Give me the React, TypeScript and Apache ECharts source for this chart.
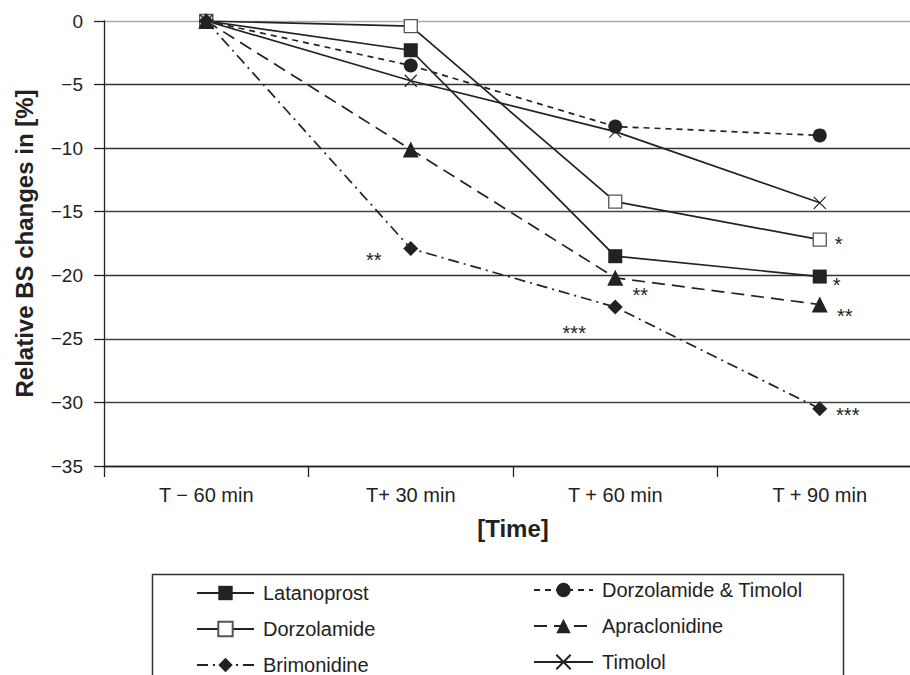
import React, { useEffect, useRef } from "react";
import * as echarts from "echarts";

const categories = ["T − 60 min", "T+ 30 min", "T + 60 min", "T + 90 min"];
const yTicks = { min: -35, max: 0, interval: 5 };

const latanoprost = [0, -2.3, -18.5, -20.1];
const dorzTimolol = [0, -3.5, -8.3, -9.0];
const dorzolamide = [0, -0.4, -14.2, -17.2];
const apraclonidine = [0, -10.1, -20.2, -22.3];
const brimonidine = [0, -17.9, -22.5, -30.5];
const timolol = [0, -4.7, -8.7, -14.3];

const latanoprostSig = ["", "", "", "*"];
const dorzTimololSig = ["", "", "", ""];
const dorzolamideSig = ["", "", "", "*"];
const apraclonidineSig = ["", "", "**", "**"];
const brimonidineSig = ["", "**", "***", "***"];
const timololSig = ["", "", "", ""];

const FONT = "'Liberation Sans', Arial, Helvetica, sans-serif";
const INK = "#222";

export default function App() {
  const ref = useRef<HTMLDivElement>(null);

  useEffect(() => {
    if (!ref.current) return;
    const chart = echarts.init(ref.current, undefined, { renderer: "svg" });

    // visual offsets of significance marks, per series and point
    const sigOffsets: Record<string, number[][]> = {
      Latanoprost: [[0, 0], [0, 0], [0, 0], [17, 8]],
      "Dorzolamide & Timolol": [[0, 0], [0, 0], [0, 0], [0, 0]],
      Dorzolamide: [[0, 0], [0, 0], [0, 0], [19, 4]],
      Apraclonidine: [[0, 0], [0, 0], [25, 17], [25, 11]],
      Brimonidine: [[0, 0], [-37, 11], [-41, 26], [28, 6]],
      Timolol: [[0, 0], [0, 0], [0, 0], [0, 0]],
    };

    const mkData = (name: string, vals: number[], sig: string[]) =>
      vals.map((v, i) =>
        sig[i]
          ? {
              value: v,
              label: {
                show: true,
                position: "inside",
                formatter: sig[i],
                offset: sigOffsets[name][i],
                fontSize: 20,
                fontFamily: FONT,
                color: INK,
                align: "center",
                verticalAlign: "middle",
              },
            }
          : v
      );

    const base = (name: string) => ({
      name,
      type: "line",
      z: 3,
      silent: true,
      label: { show: false },
    });

    const series = [
      {
        ...base("Latanoprost"),
        data: mkData("Latanoprost", latanoprost, latanoprostSig),
        symbol: "rect",
        symbolSize: 14,
        itemStyle: { color: INK },
        lineStyle: { color: INK, width: 1.7, type: "solid" },
      },
      {
        ...base("Dorzolamide & Timolol"),
        data: mkData("Dorzolamide & Timolol", dorzTimolol, dorzTimololSig),
        symbol: "circle",
        symbolSize: 14,
        itemStyle: { color: INK },
        lineStyle: { color: INK, width: 1.7, type: [6, 5] },
      },
      {
        ...base("Dorzolamide"),
        data: mkData("Dorzolamide", dorzolamide, dorzolamideSig),
        symbol: "rect",
        symbolSize: 13,
        itemStyle: { color: "#fff", borderColor: "#555", borderWidth: 1.3 },
        lineStyle: { color: INK, width: 1.7, type: "solid" },
      },
      {
        ...base("Apraclonidine"),
        data: mkData("Apraclonidine", apraclonidine, apraclonidineSig),
        symbol: "triangle",
        symbolSize: 16,
        itemStyle: { color: INK },
        lineStyle: { color: INK, width: 1.7, type: [13, 7] },
      },
      {
        ...base("Brimonidine"),
        data: mkData("Brimonidine", brimonidine, brimonidineSig),
        symbol: "diamond",
        symbolSize: 15,
        itemStyle: { color: INK },
        lineStyle: { color: INK, width: 1.7, type: [11, 5, 2, 5] },
      },
      {
        ...base("Timolol"),
        data: mkData("Timolol", timolol, timololSig),
        symbol: "path://M0,0L10,10M10,0L0,10",
        symbolSize: 12,
        itemStyle: { color: INK, borderColor: INK, borderWidth: 1.2 },
        lineStyle: { color: INK, width: 1.7, type: "solid" },
      },
    ];

    const legendCommon = {
      orient: "vertical",
      padding: 0,
      itemWidth: 57,
      itemHeight: 18,
      itemGap: 16,
      selectedMode: false,
      textStyle: {
        fontSize: 20,
        lineHeight: 18,
        color: INK,
        fontFamily: FONT,
        padding: [0, 0, 0, 4],
      },
    };

    chart.setOption({
      animation: false,
      grid: { left: 104, top: 21, right: 0, height: 445 },
      xAxis: {
        type: "category",
        data: categories,
        boundaryGap: true,
        axisLine: { onZero: false, lineStyle: { color: INK, width: 1.3 } },
        axisTick: { show: true, length: 11, alignWithLabel: false, lineStyle: { color: INK, width: 1.3 } },
        axisLabel: { margin: 19, fontSize: 20, fontFamily: FONT, color: INK },
        name: "[Time]",
        nameLocation: "middle",
        nameGap: 50,
        nameTextStyle: { fontSize: 24, fontWeight: "bold", fontFamily: FONT, color: INK },
        splitLine: { show: false },
      },
      yAxis: {
        type: "value",
        min: yTicks.min,
        max: yTicks.max,
        interval: yTicks.interval,
        axisLine: { show: true, lineStyle: { color: INK, width: 1.3 } },
        axisTick: { show: true, length: 10, lineStyle: { color: INK, width: 1.3 } },
        axisLabel: {
          margin: 21,
          fontSize: 19,
          fontFamily: FONT,
          color: INK,
          formatter: (v: number) => (v < 0 ? "−" + Math.abs(v) : String(v)),
        },
        splitLine: {
          show: true,
          lineStyle: {
            color: ["#333", "#444", "#444", "#333", "#444", "#333", "#333", "#aaa"],
            width: 1.3,
          },
        },
        name: "Relative BS changes in [%]",
        nameLocation: "middle",
        nameGap: 68,
        nameTextStyle: { fontSize: 24, fontWeight: "bold", fontFamily: FONT, color: INK },
      },
      legend: [
        { ...legendCommon, left: 196, top: 583, data: ["Latanoprost", "Dorzolamide", "Brimonidine"] },
        {
          ...legendCommon,
          left: 533,
          top: 580,
          itemWidth: 59,
          data: ["Dorzolamide & Timolol", "Apraclonidine", "Timolol"],
        },
      ],
      graphic: [
        {
          type: "rect",
          left: 150,
          top: 572,
          shape: { width: 691, height: 130 },
          style: { fill: "none", stroke: "#333", lineWidth: 1.5 },
          silent: true,
        },
      ],
      series,
    });

    return () => chart.dispose();
  }, []);

  return (
    <div
      style={{
        position: "absolute",
        left: 0,
        top: 0,
        width: 910,
        height: 675,
        overflow: "hidden",
        background: "#fff",
      }}
    >
      <div ref={ref} style={{ width: 922, height: 675 }} />
    </div>
  );
}
